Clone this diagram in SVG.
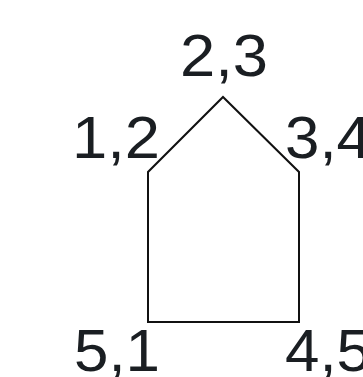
<svg xmlns="http://www.w3.org/2000/svg" width="363" height="377" viewBox="0 0 363 377">
<style>
text{font-family:"Liberation Sans",Arial,sans-serif;font-size:59px;fill:#1a1e22}
.edge{fill:none;stroke:#111;stroke-width:2;stroke-linejoin:miter}
</style>
<rect width="363" height="377" fill="#fff"/>
<g id="connectors">
<path class="edge" d="M148,322 L148,172 L223,97 L299,172 L299,322 Z"/>
</g>
<g id="n1"><text x="72" y="158" textLength="88" lengthAdjust="spacingAndGlyphs">1,2</text></g>
<g id="n2"><text x="180" y="76" textLength="88" lengthAdjust="spacingAndGlyphs">2,3</text></g>
<g id="n3"><text x="285" y="158" textLength="86" lengthAdjust="spacingAndGlyphs">3,4</text></g>
<g id="n4"><text x="285" y="371" textLength="86" lengthAdjust="spacingAndGlyphs">4,5</text></g>
<g id="n5"><text x="74" y="371" textLength="86" lengthAdjust="spacingAndGlyphs">5,1</text></g>
</svg>
